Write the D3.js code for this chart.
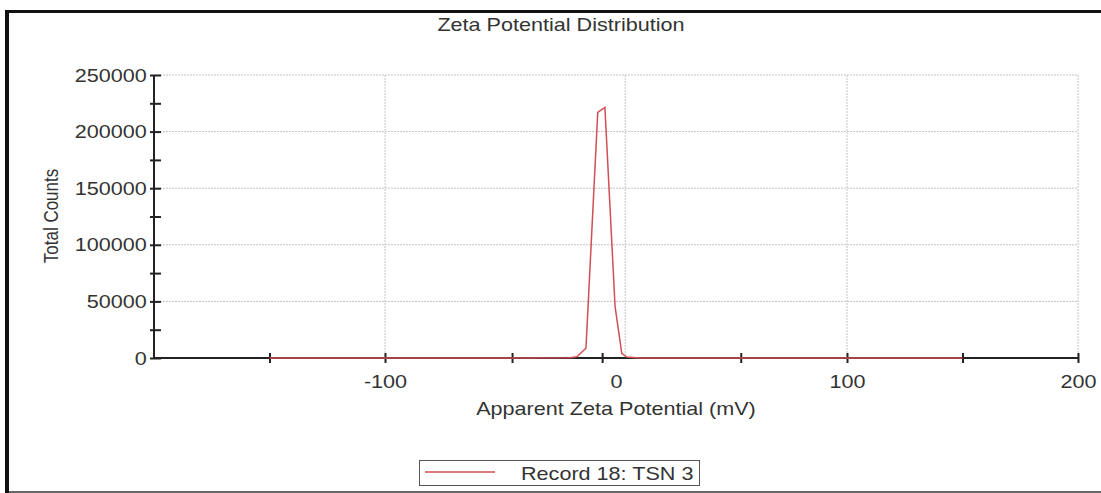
<!DOCTYPE html>
<html>
<head>
<meta charset="utf-8">
<script src="https://cdn.jsdelivr.net/npm/d3@7"></script>
<style>
	body { margin: 0; background: #fff; }
	svg text { font-family: "Liberation Sans", Arial, sans-serif; fill: #333; }
</style>
</head>
<body>
<svg class="chart"></svg>
<script>
// values
const zetaMv = [-150, -100, -50, -20, -17, -13, -7.9, -4.8, -0.4, 2.5, 4.6, 10, 50, 100, 150];
const totalCounts = [0, 0, 0, 300, 1000, 8600, 217000, 221300, 45500, 4200, 800, 0, 0, 0, 0];

const xLabelValues = [-100, 0, 100, 200];
const xTickMarks = [-150, -100, -45, -6, 54, 100, 150, 200];
const xGridValues = [-100, 4, 100, 200];
const yTickMarks = [0, 25000, 50000, 75000, 100000, 125000, 150000, 175000, 200000, 225000, 250000];
const yGridValues = [50000, 100000, 150000, 200000, 250000];

const seriesName = 'Record 18: TSN 3';
const titleText = 'Zeta Potential Distribution';
const xTitle = 'Apparent Zeta Potential (mV)';
const yTitle = 'Total Counts';

const W = 1101, H = 493;
const margin = {top: 75, right: 23, bottom: 135, left: 154};
const width = W - margin.left - margin.right;
const height = 358 - margin.top;
const stretch = 'scale(1.2,1)'; // the source picture is a bit wider than tall

const svg = d3.select('.chart').attr('width', W).attr('height', H);

// outer frame: thick left + top, thin grey bottom
svg.append('rect').attr('x', 5).attr('y', 10).attr('width', 4).attr('height', H - 10).attr('fill', '#111');
svg.append('rect').attr('x', 5).attr('y', 10).attr('width', W).attr('height', 3).attr('fill', '#111');
svg.append('rect').attr('x', 9).attr('y', 491).attr('width', W).attr('height', 2).attr('fill', '#666');

const chart = svg.append('g').attr('transform', 'translate(' + margin.left + ',' + margin.top + ')');

const x = d3.scaleLinear().domain([-200, 200]).range([0, width]);
const y = d3.scaleLinear().domain([0, 250000]).range([height, 0]);

// dotted grid
chart.selectAll('.hgrid').data(yGridValues).enter().append('line')
	.attr('x1', 0).attr('x2', width)
	.attr('y1', d => y(d)).attr('y2', d => y(d))
	.attr('stroke', '#c4c4c4').attr('stroke-dasharray', '2,1');
chart.selectAll('.vgrid').data(xGridValues).enter().append('line')
	.attr('x1', d => x(d)).attr('x2', d => x(d))
	.attr('y1', 0).attr('y2', height)
	.attr('stroke', '#c4c4c4').attr('stroke-dasharray', '2,1');

// y axis
const yAxisGroup = chart.append('g')
	.call(d3.axisLeft(y).tickValues(yTickMarks).tickFormat(d => d % 50000 === 0 ? String(d) : ''));
yAxisGroup.select('.domain').attr('stroke', '#222').attr('stroke-width', 2).attr('d', 'M0,0V' + height);
yAxisGroup.selectAll('.tick line').attr('x1', -4).attr('x2', 7).attr('stroke', '#222').attr('stroke-width', 2);
yAxisGroup.selectAll('.tick text').attr('x', -6).attr('dy', '0.34em')
	.attr('transform', stretch).style('font-size', '18px');

// x axis: marks and labels are on different positions in the source
const xAxisGroup = chart.append('g').attr('transform', 'translate(0,' + height + ')')
	.call(d3.axisBottom(x).tickValues(xTickMarks).tickFormat(''));
xAxisGroup.select('.domain').attr('stroke', '#222').attr('stroke-width', 2).attr('d', 'M0,0H' + width);
xAxisGroup.selectAll('.tick line').attr('y1', -5).attr('y2', 5).attr('stroke', '#222').attr('stroke-width', 2);

const xLabels = chart.append('g').attr('transform', 'translate(0,' + height + ')')
	.call(d3.axisBottom(x).tickValues(xLabelValues).tickSize(0).tickPadding(17).tickFormat(d => String(d))); // plain hyphen, not unicode minus
xLabels.select('.domain').remove();
xLabels.selectAll('.tick text').attr('transform', stretch).style('font-size', '18px');

// the curve
const line = d3.line().x((d, i) => x(zetaMv[i])).y(d => y(d));
chart.append('path')
	.datum(totalCounts)
	.attr('d', line)
	.attr('fill', 'none')
	.attr('stroke', '#cf4f55')
	.attr('stroke-width', 1.5);

// titles
function addText(px, py, str, anchor, size, extra) {
	return svg.append('text')
		.attr('transform', 'translate(' + px + ',' + py + ') ' + stretch + (extra || ''))
		.attr('text-anchor', anchor)
		.style('font-size', size + 'px')
		.text(str);
}
addText(561, 31, titleText, 'middle', 18);
addText(616, 415, xTitle, 'middle', 18);
addText(58, 216, yTitle, 'middle', 17, ' rotate(-90)');

// legend
const legend = svg.append('g');
legend.append('rect').attr('x', 419.5).attr('y', 460.5).attr('width', 280).attr('height', 25)
	.attr('fill', '#fff').attr('stroke', '#555');
legend.append('line').attr('x1', 425).attr('x2', 495).attr('y1', 472).attr('y2', 472)
	.attr('stroke', '#cf4f55').attr('stroke-width', 1.5);
addText(521, 480, seriesName, 'start', 18);
</script>
</body>
</html>
